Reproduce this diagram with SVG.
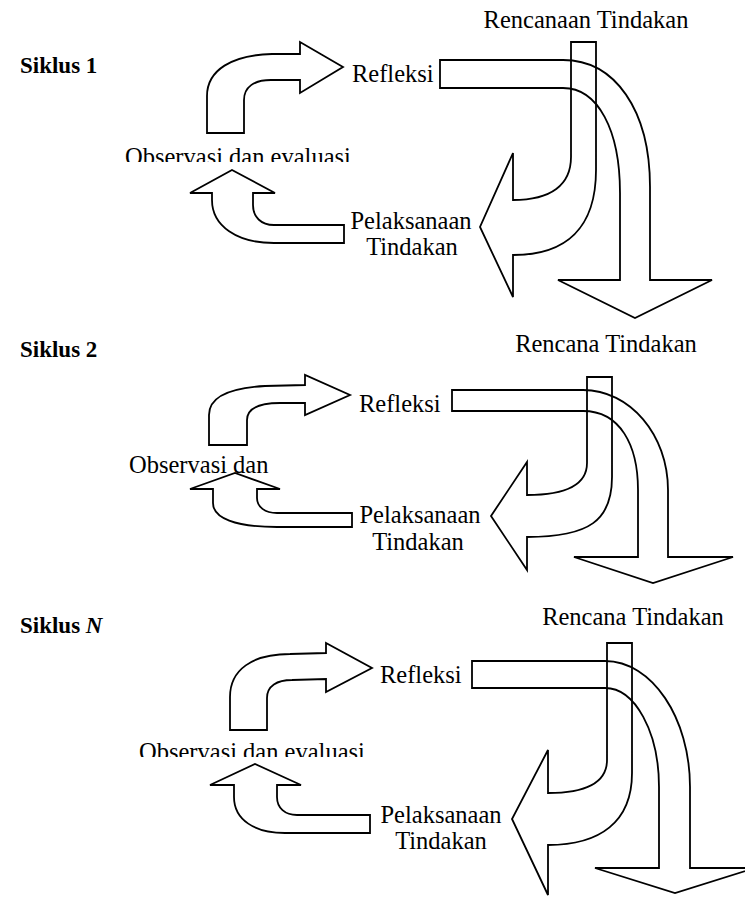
<svg xmlns="http://www.w3.org/2000/svg" width="745" height="903" viewBox="0 0 745 903">
<style>
.sh{fill:none;stroke:#000;stroke-width:1.8;stroke-linejoin:miter}
.t{font-family:"Liberation Serif","Times New Roman",serif;font-size:24.5px;fill:#000}
.b{font-family:"Liberation Serif","Times New Roman",serif;font-size:23px;font-weight:bold;fill:#000}
.m{text-anchor:middle}
</style>
<defs>
<clipPath id="c1"><rect x="100" y="130" width="300" height="32"/></clipPath>
<clipPath id="c3"><rect x="100" y="720" width="300" height="37"/></clipPath>
</defs>
<rect width="745" height="903" fill="#fff"/>

<g id="cycle1">
<text class="b" x="20" y="73">Siklus 1</text>
<g id="c1-rencana"><text class="t m" x="586" y="28">Rencanaan Tindakan</text></g>
<g id="c1-refleksi"><text class="t" x="352" y="82">Refleksi</text></g>
<g id="c1-observasi"><text class="t" x="125" y="165" clip-path="url(#c1)">Observasi dan evaluasi</text></g>
<g id="c1-pelaksanaan"><text class="t m" x="411" y="229">Pelaksanaan</text><text class="t m" x="412" y="255">Tindakan</text></g>
<g id="c1-connectors">
<path class="sh" d="M207,133 L207,96 C207,70 232,55 272,54 L300,54 L300,42 L343,67 L300,93 L300,80 L271,80 C254,80 244,87 244,100 L244,133 Z"/>
<path class="sh" d="M344,225 L274,225 C261,225 253,217 253,205 L253,193 L275,193 L232,170 L190,193 L212,193 L212,200 C212,226 237,243 274,243 L344,243 Z"/>
<path class="sh" d="M440,60 L563,60 C615,60 650,110 650,187 L650,280 L712,280 L635,318 L558,280 L620,280 L620,193 C620,130 598,88 563,88 L440,88 Z"/>
<path class="sh" d="M571,42 L596,42 L596,170 C596,228 566,255 513,255 L513,297 L480,227 L513,153 L513,200 C551,200 571,185 571,157 Z"/>
</g>
</g>

<g id="cycle2">
<text class="b" x="20" y="357">Siklus 2</text>
<g id="c2-rencana"><text class="t m" x="606" y="352">Rencana Tindakan</text></g>
<g id="c2-refleksi"><text class="t" x="359" y="412">Refleksi</text></g>
<g id="c2-observasi"><text class="t" x="129" y="473">Observasi dan</text></g>
<g id="c2-pelaksanaan"><text class="t m" x="420" y="523">Pelaksanaan</text><text class="t m" x="418" y="550">Tindakan</text></g>
<g id="c2-connectors">
<path class="sh" d="M209,445 L209,415 C209,397 228,388 265,386 L305,385 L305,375 L350,395 L305,415 L305,403 L280,403 C262,403 247,407 247,420 L247,445 Z"/>
<path class="sh" d="M352,513 L277,513 C265,513 257,507 257,498 L257,489 L280,489 L235,473 L190,489 L213,489 L213,503 C213,518 235,527 277,527 L352,527 Z"/>
<path class="sh" d="M452,390 L583,390 C630,390 668,435 668,490 L668,557 L733,557 L653,583 L574,557 L638,557 L638,490 C638,445 620,411 583,411 L452,411 Z"/>
<path class="sh" d="M587,377 L612,377 L612,477 C612,520 590,537 527,537 L527,570 L491,516 L527,462 L527,495 C565,495 587,485 587,463 Z"/>
</g>
</g>

<g id="cycleN">
<text class="b" x="20" y="633">Siklus <tspan font-style="italic">N</tspan></text>
<g id="cN-rencana"><text class="t m" x="633" y="625">Rencana Tindakan</text></g>
<g id="cN-refleksi"><text class="t" x="380" y="683">Refleksi</text></g>
<g id="cN-observasi"><text class="t" x="139" y="760" clip-path="url(#c3)">Observasi dan evaluasi</text></g>
<g id="cN-pelaksanaan"><text class="t m" x="441" y="823">Pelaksanaan</text><text class="t m" x="441" y="849">Tindakan</text></g>
<g id="cN-connectors">
<path class="sh" d="M230,730 L230,697 C230,670 252,654 290,654 L326,653 L326,643 L372,668 L326,692 L326,679 L292,680 C277,680 267,686 267,698 L267,730 Z"/>
<path class="sh" d="M370,815 L297,815 C285,815 277,808 277,797 L277,785 L301,785 L255,764 L210,785 L234,785 L234,797 C234,820 255,833 285,833 L370,833 Z"/>
<path class="sh" d="M472,661 L605,661 C652,661 690,718 690,787 L690,868 L755,868 L675,893 L595,868 L659,868 L659,787 C659,732 635,688 605,688 L472,688 Z"/>
<path class="sh" d="M607,643 L632,643 L632,773 C632,822 600,845 548,845 L548,895 L512,819 L548,750 L548,793 C585,793 607,783 607,760 Z"/>
</g>
</g>
</svg>
